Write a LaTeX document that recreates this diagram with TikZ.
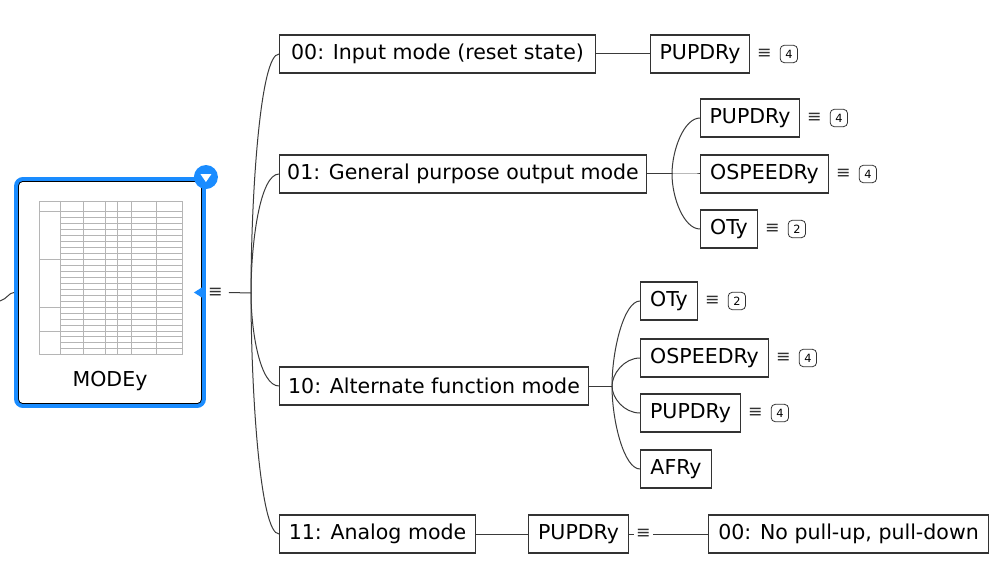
\documentclass[tikz,border=0pt]{standalone}
\usepackage{fontspec}
\setmainfont{DejaVu Sans}
\usetikzlibrary{positioning}
\definecolor{colRaiz}{HTML}{1A8CFF}
\definecolor{colBorde}{HTML}{333333}
\definecolor{colLinea}{HTML}{3A3A3A}
\definecolor{colRejilla}{HTML}{B5B5B5}

\begin{document}
\begin{tikzpicture}[x=0.75pt, y=-0.75pt,
        bloque/.style={draw=colBorde, fill=white, line width=0.8pt, anchor=west, inner sep=0pt,
            minimum width=#1*0.75pt, minimum height=28.5pt,
            font=\fontsize{15.4pt}{18pt}\selectfont},
        raiz/.style={draw=colRaiz, fill=white, line width=3.4pt, rounded corners=5pt,
            minimum width=140.5pt, minimum height=169.8pt, inner sep=0pt},
        icono/.style={inner sep=0pt, text=colBorde, font=\fontsize{13pt}{15pt}\selectfont},
        contador/.style={draw=colBorde, line width=0.6pt, rounded corners=3pt, inner sep=0pt,
            minimum width=13pt, minimum height=13pt, font=\fontsize{8.5pt}{10pt}\selectfont},
        rama/.style={draw=colLinea, line width=0.75pt},
        rejilla/.style={draw=colRejilla, line width=0.3pt}
    ]
        \useasboundingbox (0,0) rectangle (998,570);

        % raiz con la tabla
        \node[raiz] (modo) at (110,292.5) {};
        \draw[line width=0.6pt, rounded corners=3pt] ([shift={(4.5,4.5)}]modo.north west)
            rectangle ([shift={(-4.5,-4.5)}]modo.south east);
        \draw[rejilla] (39,201) rectangle (182,354);
        \foreach \x in {60,83,105,117,131,156}
            \draw[rejilla] (\x,201) -- (\x,354);
        \foreach \k in {0,...,23}
            \draw[rejilla] (60,211.7+\k*5.95) -- (182,211.7+\k*5.95);
        \foreach \y in {211.7,259.3,306.9,330.7}
            \draw[rejilla] (39,\y) -- (182,\y);
        \node[font=\fontsize{15.4pt}{18pt}\selectfont] (modoTxt) at (110,381) {MODEy};
        \node[circle, fill=colRaiz, minimum size=18pt, inner sep=0pt] (plegar) at (modo.north east) {};
        \fill[white] ([shift={(-5.5,-3)}]plegar.center) -- ([shift={(5.5,-3)}]plegar.center)
            -- ([shift={(0,5)}]plegar.center) -- cycle;
        \fill[colRaiz] ([shift={(-1,-7)}]modo.east) -- ([shift={(-12,0)}]modo.east)
            -- ([shift={(-1,7)}]modo.east) -- cycle;
        \node[icono, right=1.5pt of modo] (modoMenu) {≡};

        \node[bloque=316] (modo00) at (279,54) {00: Input mode (reset state)};
        \node[bloque=367] (modo01) at (279,174) {01: General purpose output mode};
        \node[bloque=309] (modo10) at (279,386) {10: Alternate function mode};
        \node[bloque=196] (modo11) at (279,534) {11: Analog mode};

        \node[bloque=99] (pupdr00) at (650,54) {PUPDRy};
        \node[bloque=99] (pupdr01) at (700,118) {PUPDRy};
        \node[bloque=128] (ospeedr01) at (700,174) {OSPEEDRy};
        \node[bloque=57] (ot01) at (700,229) {OTy};
        \node[bloque=57] (ot10) at (640,301) {OTy};
        \node[bloque=128] (ospeedr10) at (640,358) {OSPEEDRy};
        \node[bloque=100] (pupdr10) at (640,413) {PUPDRy};
        \node[bloque=71] (afr10) at (640,469) {AFRy};
        \node[bloque=100] (pupdr11) at (528,534) {PUPDRy};
        \node[bloque=280] (nopull) at (708,534) {00: No pull-up, pull-down};

        \foreach \n/\c in {pupdr00/4, pupdr01/4, ospeedr01/4, ot01/2, ot10/2, ospeedr10/4, pupdr10/4} {
            \node[icono, right=5pt of \n] (\n-menu) {≡};
            \node[contador, right=6pt of \n-menu] (\n-cont) {\c};
        }

        \coordinate (entrada) at (0,301);
        \coordinate (raizJ) at (251,293);
        \coordinate (j01) at (672,174);
        \coordinate (j10) at (612,386);

        \draw[rama] (entrada) .. controls (7,299) and (9,292.5) .. (modo.west);
        \draw[rama] ([xshift=4.5]modoMenu.east) -- (raizJ);
        \foreach \n/\d in {modo00/-95, modo01/-50, modo10/38, modo11/97}
            \draw[rama] (raizJ) .. controls +(0,\d) and +(-19,0) .. (\n.west);

        \draw[rama] (modo00.east) -- (pupdr00.west);
        \draw[rama] (modo01.east) -- (j01);
        \foreach \n/\d in {pupdr01/-24, ospeedr01/0, ot01/24}
            \draw[rama] (j01) .. controls +(0,\d) and +(-16,0) .. (\n.west);
        \draw[rama] (modo10.east) -- (j10);
        \foreach \n/\d in {ot10/-36, ospeedr10/-12, pupdr10/12, afr10/35}
            \draw[rama] (j10) .. controls +(0,\d) and +(-16,0) .. (\n.west);
        \draw[rama] (modo11.east) -- (pupdr11.west);
        \draw[rama] (pupdr11.east) -- (nopull.west);
        \node[icono, fill=white, inner xsep=1.5pt, right=3.5pt of pupdr11] (pupdr11-menu) {≡};
    \end{tikzpicture}
\end{document}
